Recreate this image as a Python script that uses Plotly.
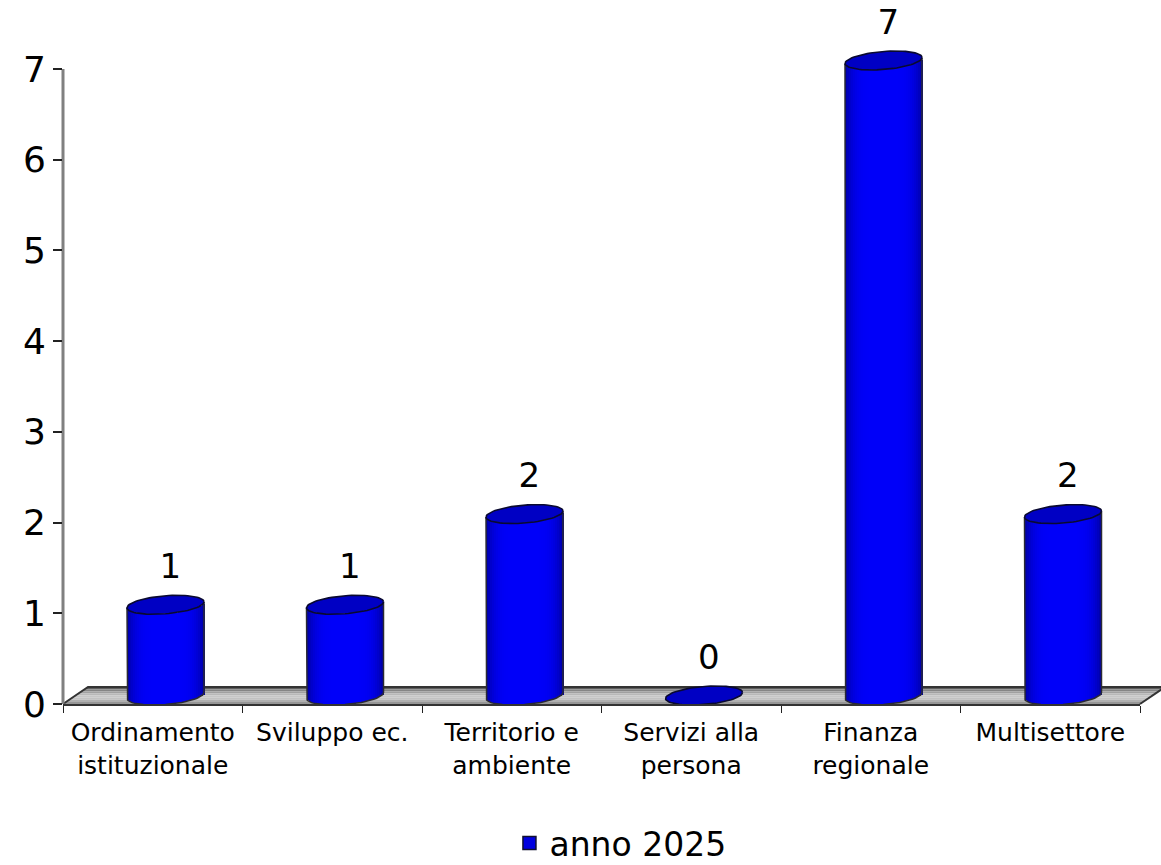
import math
import plotly.graph_objects as go

categories = ["Ordinamento<br>istituzionale", "Sviluppo ec.", "Territorio e<br>ambiente",
              "Servizi alla<br>persona", "Finanza<br>regionale", "Multisettore"]
values = [1, 1, 2, 0, 7, 2]
series_name = "anno 2025"
y_ticks = [0, 1, 2, 3, 4, 5, 6, 7]

FIG_W, FIG_H = 1161, 865
L, R, T, B = 63, 1140, 69, 704
PLOT_TOP = 10
PX_X = (R - L) / 6
PX_Y = (B - T) / 7
positions = list(range(len(values)))
boundaries = [p - 0.5 for p in positions] + [positions[-1] + 0.5]

RADIUS = 38.5      # px, half cylinder width
SHIFT_X = 12.75    # px, depth shift of cylinder
SHIFT_Y = 8.5      # px
MINOR = 9.0        # px, ellipse minor axis
TILT = 3.0         # px, ellipse tilt
STRIPS = 38


def ell_x(cx, c):
    return cx + (SHIFT_X + RADIUS * c) / PX_X


def ell_y(v, c, s):
    return v + (SHIFT_Y + MINOR * s + TILT * c) / PX_Y


fig = go.Figure()

# side of each cylinder: vertical shaded strips, through the bar scale
strip_w = 2 * RADIUS / STRIPS
for i in range(STRIPS):
    t = (i + 0.5) / STRIPS
    c = 2 * t - 1
    s = -math.sqrt(max(0, 1 - c * c))
    blue = int(250 - 85 * abs(2 * t - 1.0) ** 4.5)
    fig.add_trace(go.Bar(
        x=positions, y=values,
        base=(SHIFT_Y + MINOR * s + TILT * c) / PX_Y,
        width=(strip_w + 0.6) / PX_X,
        offset=(SHIFT_X + RADIUS * (2 * i / STRIPS - 1)) / PX_X,
        marker=dict(color=f"rgb(0,0,{blue})", line=dict(width=0)),
        cliponaxis=False, showlegend=False, hoverinfo="skip",
    ))

# outlines and top ellipses
angles = [2 * math.pi * k / 72 for k in range(73)]
for p, v in zip(positions, values):
    if v > 0:
        xs, ys = [], []
        xs.append(ell_x(p, -1)); ys.append(ell_y(v, -1, 0))
        for k in range(37):
            a = math.pi + math.pi * k / 36
            xs.append(ell_x(p, math.cos(a))); ys.append(ell_y(0, math.cos(a), math.sin(a)))
        xs.append(ell_x(p, 1)); ys.append(ell_y(v, 1, 0))
        fig.add_trace(go.Scatter(x=xs, y=ys, mode="lines", line=dict(color="#2a2a33", width=1.5),
                                 cliponaxis=False, showlegend=False, hoverinfo="skip"))
    fig.add_trace(go.Scatter(
        x=[ell_x(p, math.cos(a)) for a in angles],
        y=[ell_y(v, math.cos(a), math.sin(a)) for a in angles],
        mode="lines", fill="toself", fillcolor="#0000c4",
        line=dict(color="#0a0a30", width=1.6),
        cliponaxis=False, showlegend=False, hoverinfo="skip"))

# value labels
fig.add_trace(go.Scatter(
    x=[p + 17.5 / PX_X for p in positions], y=[v + 27 / PX_Y for v in values],
    mode="text", text=[str(v) for v in values], textposition="top center",
    textfont=dict(family="DejaVu Sans", size=34, color="#000000"),
    cliponaxis=False, showlegend=False, hoverinfo="skip"))

# legend entry
fig.add_trace(go.Scatter(
    x=[None], y=[None], mode="markers", name=series_name,
    marker=dict(symbol="square", size=13, color="#0000e0", line=dict(color="#101030", width=1.5)),
))

# floor in paper coordinates, below the traces
W, H = R - L, B - PLOT_TOP
DEPTH_X, DEPTH_Y = 25.0, 17.0
band_colors = ["#5e5e5e", "#858585", "#a0a0a0", "#b8b8b8", "#c6c6c6", "#c2c2c2", "#b0b0b0", "#969696"]
shapes = []
n = len(band_colors)
for i, col in enumerate(band_colors):
    f0, f1 = 1 - i / n, 1 - (i + 1) / n
    x0, x1 = f0 * DEPTH_X / W, f1 * DEPTH_X / W
    y0, y1 = f0 * DEPTH_Y / H, f1 * DEPTH_Y / H
    shapes.append(dict(type="path", xref="paper", yref="paper", layer="below",
                       path=f"M{x0},{y0} L{1 + x0},{y0} L{1 + x1},{y1} L{x1},{y1} Z",
                       fillcolor=col, line=dict(width=0)))
bx, by = DEPTH_X / W, DEPTH_Y / H
shapes.append(dict(type="path", xref="paper", yref="paper", layer="below",
                   path=f"M0,0 L{bx},{by} L{1 + bx},{by} L1,0",
                   line=dict(color="#333333", width=2)))
# value axis wall, stops at the top tick
shapes.append(dict(type="line", xref="paper", yref="y", layer="below",
                   x0=0, x1=0, y0=0, y1=y_ticks[-1],
                   line=dict(color="#808080", width=3)))

fig.update_layout(
    width=FIG_W, height=FIG_H,
    margin=dict(l=L, r=FIG_W - R, t=PLOT_TOP, b=FIG_H - B, autoexpand=False),
    paper_bgcolor="#ffffff", plot_bgcolor="rgba(0,0,0,0)",
    barmode="overlay", bargap=0,
    font=dict(family="DejaVu Sans", color="#000000"),
    shapes=shapes,
    legend=dict(orientation="h", xref="paper", yref="paper", x=0.5176, xanchor="center",
                y=-111 / H, yanchor="top", font=dict(size=33), itemwidth=30,
                bgcolor="rgba(0,0,0,0)", borderwidth=0),
    showlegend=True,
    xaxis=dict(range=[boundaries[0], boundaries[-1]], tickmode="array", tickvals=positions,
               ticktext=categories, ticks="", ticklen=0, showgrid=False, zeroline=False,
               showline=True, linecolor="#333333", linewidth=2, ticklabelstandoff=5,
               tickfont=dict(size=25, family="DejaVu Sans"),
               minor=dict(tickmode="array", tickvals=boundaries, ticks="outside", ticklen=7,
                          tickwidth=1.2, tickcolor="#222222", showgrid=False)),
    yaxis=dict(range=[0, (B - PLOT_TOP) / PX_Y], tickmode="array", tickvals=y_ticks,
               ticks="outside", ticklen=9,
               tickwidth=1.5, tickcolor="#222222", showgrid=False, zeroline=False,
               showline=False,
               tickfont=dict(size=36, family="DejaVu Sans")),
)

fig.write_html("out.html", config={"displayModeBar": False},
               post_script="document.body.style.margin='0';document.body.style.overflow='hidden';window.dispatchEvent(new Event('resize'));")
